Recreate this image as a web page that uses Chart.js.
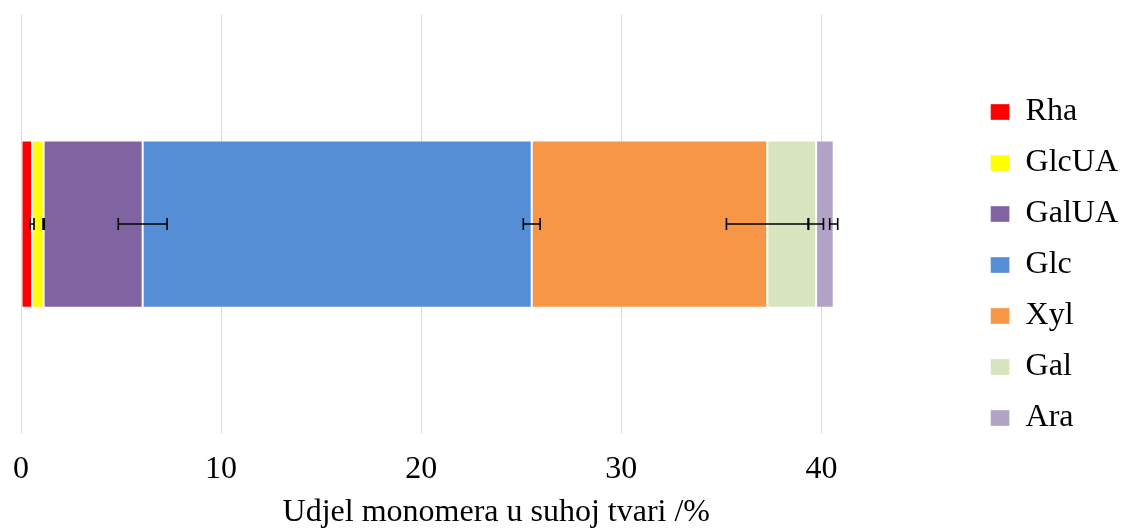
<!DOCTYPE html>
<html>
<head>
<meta charset="utf-8">
<script src="https://cdn.jsdelivr.net/npm/chart.js@4/dist/chart.umd.min.js"></script>
<style>
  html, body { margin: 0; padding: 0; background: #fff; }
  #wrap { width: 1128px; height: 530px; }
</style>
</head>
<body>
<div id="wrap"><canvas id="monomerChart"></canvas></div>
<script>
// monomer shares in dry matter (%)
const monomers = ['Rha', 'GlcUA', 'GalUA', 'Glc', 'Xyl', 'Gal', 'Ara'];
const shares = [0.55, 0.58, 4.95, 19.44, 11.77, 2.44, 0.88];
const errors = [0.10, 0.03, 1.22, 0.42, 2.04, 0.37, 0.20];
const colors = ['#FF0000', '#FFFF00', '#8064A2', '#558ED5', '#F79646', '#D7E4BD', '#B3A2C7'];
const xTicks = [0, 10, 20, 30, 40];
const axisTitle = 'Udjel monomera u suhoj tvari /%';

const serif = 'Liberation Serif';

// error bars at the end of each stacked segment
const errorBars = {
    id: 'errorBars',
    afterDatasetsDraw(chart) {
        const ctx = chart.ctx;
        const xs = chart.scales.x;
        let cum = 0;
        ctx.save();
        ctx.strokeStyle = '#000';
        ctx.lineWidth = 1.6;
        shares.forEach((v, i) => {
            cum += v;
            const bar = chart.getDatasetMeta(i).data[0];
            const y = bar.y;
            const x1 = xs.getPixelForValue(cum - errors[i]);
            const x2 = xs.getPixelForValue(cum + errors[i]);
            ctx.beginPath();
            ctx.moveTo(x1, y);
            ctx.lineTo(x2, y);
            ctx.moveTo(x1, y - 6);
            ctx.lineTo(x1, y + 6);
            ctx.moveTo(x2, y - 6);
            ctx.lineTo(x2, y + 6);
            ctx.stroke();
        });
        ctx.restore();
    }
};

const datasets = monomers.map((name, i) => ({
    label: name,
    data: [shares[i]],
    backgroundColor: colors[i],
    borderColor: 'rgba(255,255,255,0.35)',
    borderWidth: 1,
    borderSkipped: false,
    categoryPercentage: 1,
    barPercentage: 0.4
}));

new Chart(document.getElementById('monomerChart'), {
    type: 'bar',
    data: {
        labels: [''],
        datasets: datasets
    },
    options: {
        indexAxis: 'y',
        responsive: true,
        maintainAspectRatio: false,
        animation: false,
        layout: {
            padding: { left: 21, top: 15, right: 0, bottom: 0 }
        },
        scales: {
            x: {
                stacked: true,
                min: 0,
                max: 47.5,
                afterBuildTicks: (scale) => {
                    scale.ticks = xTicks.map(v => ({ value: v }));
                },
                // the layout padding already leaves room for the "0" label
                afterFit: (scale) => {
                    scale.paddingLeft = 0;
                },
                grid: { color: '#D9D9D9', lineWidth: 1, drawTicks: false },
                border: { display: false },
                ticks: {
                    padding: 29,
                    color: '#000',
                    font: { family: serif, size: 32, lineHeight: 0.5 }
                },
                title: {
                    display: true,
                    text: axisTitle,
                    color: '#000',
                    font: { family: serif, size: 32, lineHeight: 1.06 },
                    padding: { top: -11, bottom: 0 }
                }
            },
            y: {
                stacked: true,
                display: false
            }
        },
        plugins: {
            legend: {
                position: 'right',
                align: 'start',
                // empty title used as top spacing for the legend column
                title: {
                    display: true,
                    text: '',
                    font: { size: 20, lineHeight: 1 },
                    padding: { top: 42, bottom: 0 }
                },
                labels: {
                    boxWidth: 19,
                    boxHeight: 16,
                    padding: 19,
                    color: '#000',
                    font: { family: serif, size: 32 }
                }
            },
            tooltip: { enabled: false }
        }
    },
    plugins: [errorBars]
});
</script>
</body>
</html>
